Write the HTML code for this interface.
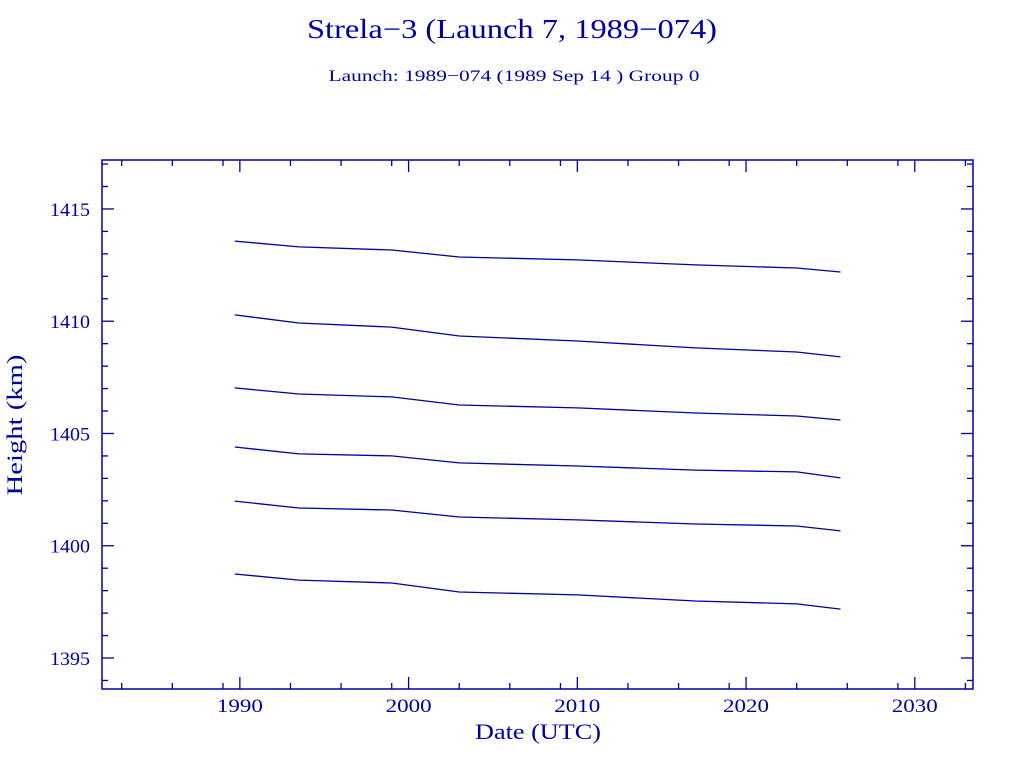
<!DOCTYPE html>
<html><head><meta charset="utf-8"><style>
body{margin:0;background:#fff;}
svg text{font-family:"Liberation Serif",serif;fill:#0000a0;}
</style></head><body>
<svg width="1024" height="768" xmlns="http://www.w3.org/2000/svg">
<text x="512" y="38" font-size="27" text-anchor="middle" textLength="410" lengthAdjust="spacingAndGlyphs">Strela−3 (Launch 7, 1989−074)</text>
<text x="514" y="81" font-size="16" text-anchor="middle" textLength="371" lengthAdjust="spacingAndGlyphs">Launch: 1989−074  (1989 Sep 14 )  Group 0</text>
<rect x="102" y="160" width="871" height="529" fill="none" stroke="#0000a0" stroke-width="1.5"/>
<g id="axes"></g>
<g id="series"></g>
<text x="538" y="739" font-size="22" text-anchor="middle" textLength="126" lengthAdjust="spacingAndGlyphs">Date (UTC)</text>
<text transform="translate(22,425) rotate(-90)" font-size="22" text-anchor="middle" textLength="141" lengthAdjust="spacingAndGlyphs">Height (km)</text>
</svg>
<script>
const years = [1989.7, 1993.5, 1999, 2003, 2010, 2017, 2023, 2025.6];
const s1 = [1413.57,1413.31,1413.17,1412.86,1412.73,1412.51,1412.37,1412.19];
const s2 = [1410.28,1409.92,1409.74,1409.34,1409.12,1408.81,1408.63,1408.41];
const s3 = [1407.03,1406.76,1406.63,1406.27,1406.14,1405.91,1405.78,1405.60];
const s4 = [1404.40,1404.09,1404.00,1403.69,1403.55,1403.37,1403.29,1403.02];
const s5 = [1401.99,1401.68,1401.59,1401.28,1401.15,1400.97,1400.88,1400.66];
const s6 = [1398.74,1398.47,1398.34,1397.94,1397.81,1397.54,1397.41,1397.18];
const xTicks = [1990, 2000, 2010, 2020, 2030];
const yTicks = [1395, 1400, 1405, 1410, 1415];
const NS="http://www.w3.org/2000/svg";
const X0=102,X1=973,Y0=160,Y1=689, xmin=1981.83,xmax=2033.45, ymin=1393.62,ymax=1417.18;
const xs=v=>X0+(v-xmin)/(xmax-xmin)*(X1-X0);
const ys=v=>Y1-(v-ymin)/(ymax-ymin)*(Y1-Y0);
const axes=document.getElementById('axes'), ser=document.getElementById('series');
function line(x1,y1,x2,y2,name){const l=document.createElementNS(NS,'line');
l.setAttribute('x1',x1);l.setAttribute('y1',y1);l.setAttribute('x2',x2);l.setAttribute('y2',y2);
l.setAttribute('stroke','#0000a0');l.setAttribute('stroke-width','1.3');


axes.appendChild(l);}
for(let d=1980; d<=2030; d+=10){
  for(const k of [0,3,6,9]){const yr=d+k; if(yr<xmin||yr>xmax) continue;
    const x=xs(yr), len=k==0?12:6;
    line(x,Y1,x,Y1-len,'x-tick'); line(x,Y0,x,Y0+len,'x-tick-top');}
}
xTicks.forEach(t=>{const tx=document.createElementNS(NS,'text');
tx.setAttribute('x',xs(t));tx.setAttribute('y',712);tx.setAttribute('font-size','19');tx.setAttribute('text-anchor','middle');
tx.setAttribute('textLength','46');tx.setAttribute('lengthAdjust','spacingAndGlyphs');


tx.textContent=t;axes.appendChild(tx);});
for(let v=1394; v<=1417; v++){const y=ys(v), len=v%5==0?12:6;
  line(X0,y,X0+len,y,'y-tick'); line(X1,y,X1-len,y,'y-tick-right');}
yTicks.forEach(t=>{const tx=document.createElementNS(NS,'text');
tx.setAttribute('x',90);tx.setAttribute('y',ys(t)+7);tx.setAttribute('font-size','19');tx.setAttribute('text-anchor','end');
tx.setAttribute('textLength','40');tx.setAttribute('lengthAdjust','spacingAndGlyphs');


tx.textContent=t;axes.appendChild(tx);});
[s1,s2,s3,s4,s5,s6].forEach((s,i)=>{const p=document.createElementNS(NS,'polyline');
p.setAttribute('points',s.map((v,j)=>xs(years[j]).toFixed(1)+','+ys(v).toFixed(1)).join(' '));
p.setAttribute('fill','none');p.setAttribute('stroke','#0000a0');p.setAttribute('stroke-width','1.3');


ser.appendChild(p);});
</script>
</body></html>
